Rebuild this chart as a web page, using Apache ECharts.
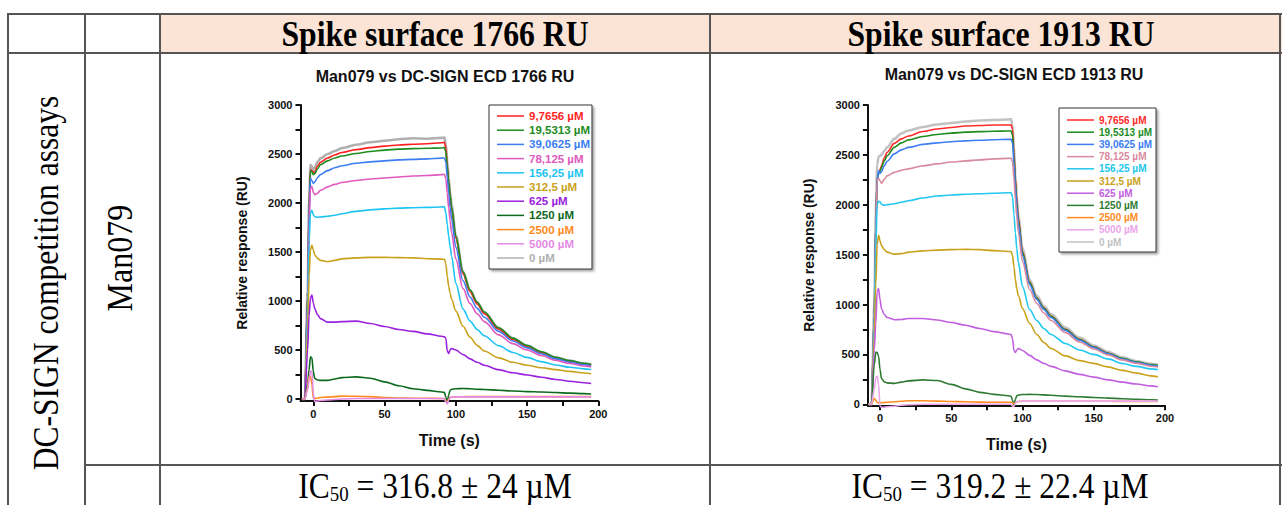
<!DOCTYPE html>
<html>
<head>
<meta charset="utf-8">
<script src="https://cdn.jsdelivr.net/npm/echarts@6/dist/echarts.min.js"></script>
<style>
  html, body { margin: 0; padding: 0; background: #fff; }
  #page { position: relative; width: 1282px; height: 505px; overflow: hidden; background: #fff; }
  .fill { position: absolute; background: #FBE4D5; }
  .ln { position: absolute; background: #555; }
  .txt { position: absolute; font-family: "Liberation Serif", "Times New Roman", serif; color: #000;
         white-space: nowrap; line-height: 1; font-size: 36px; }
  .ic { font-size: 35px; line-height: 0.9; }
  .ic sub { font-size: 0.6em; vertical-align: -0.15em; line-height: 0; }
  #chart { position: absolute; left: 0; top: 0; width: 1282px; height: 505px; }
</style>
</head>
<body>
<div id="page">
  <!-- header band -->
  <div class="fill" style="left:160px;top:14px;width:1130px;height:39px"></div>

  <!-- table rules -->
  <div class="ln" style="left:7px;top:13px;width:1283px;height:2px"></div>
  <div class="ln" style="left:7px;top:52px;width:1283px;height:2px"></div>
  <div class="ln" style="left:84px;top:464px;width:1206px;height:2px"></div>
  <div class="ln" style="left:7px;top:13px;width:2px;height:492px"></div>
  <div class="ln" style="left:84px;top:13px;width:2px;height:492px"></div>
  <div class="ln" style="left:159px;top:13px;width:2px;height:492px"></div>
  <div class="ln" style="left:709px;top:13px;width:2px;height:492px"></div>
  <div class="ln" style="left:1279px;top:13px;width:2px;height:492px"></div>

  <!-- cell texts -->
  <div class="txt" style="left:435px;top:34px;font-weight:bold;transform:translate(-50%,-50%) scaleX(0.88)">Spike surface 1766 RU</div>
  <div class="txt" style="left:1001px;top:34px;font-weight:bold;transform:translate(-50%,-50%) scaleX(0.88)">Spike surface 1913 RU</div>
  <div class="txt" style="left:46px;top:283px;transform:translate(-50%,-50%) rotate(-90deg) scaleX(0.875)">DC-SIGN competition assays</div>
  <div class="txt" style="left:120px;top:258px;transform:translate(-50%,-50%) rotate(-90deg) scaleX(0.89)">Man079</div>
  <div class="txt ic" style="left:435px;top:487px;transform:translate(-50%,-50%) scaleX(0.9)">IC<sub>50</sub> = 316.8 ± 24 µM</div>
  <div class="txt ic" style="left:1000px;top:487px;transform:translate(-50%,-50%) scaleX(0.9)">IC<sub>50</sub> = 319.2 ± 22.4 µM</div>

  <div id="chart"></div>
</div>

<script>
// Sampling times (s) shared by every sensorgram trace
const times = [-8, -6, -4, -3, -2, -1, 0, 1, 3, 5, 10, 15, 20, 30, 40, 50, 60, 70, 80, 90,
  92, 93, 94, 95, 96, 97, 100, 105, 110, 115, 120, 130, 140, 150, 160, 170, 180, 190, 195];

// Competitor concentrations (legend order)
const concLabels = ['9,7656 µM', '19,5313 µM', '39,0625 µM', '78,125 µM', '156,25 µM',
  '312,5 µM', '625 µM', '1250 µM', '2500 µM', '5000 µM', '0 µM'];

// Axis ticks
const xTickValues = [0, 25, 50, 75, 100, 125, 150, 175, 200];
const xLabelValues = [0, 50, 100, 150, 200];
const yTickValues = [0, 250, 500, 750, 1000, 1250, 1500, 1750, 2000, 2250, 2500, 2750, 3000];
const yLabelValues = [0, 500, 1000, 1500, 2000, 2500, 3000];

// Spike surface 1766 RU — response (RU)
const l_9_7656 = [0,0,1050,1950,2340,2330,2310,2320,2380,2415,2460,2490,2515,2545,2565,2580,2592,2600,2605,2615,2620, 2560,2380,2210,2070,1940,1640,1280,1095,970,870,712,608,535,472,418,383,356,346];
const l_19_5313 = [0,0,1050,1950,2330,2320,2290,2300,2350,2390,2430,2460,2480,2505,2525,2540,2550,2555,2558,2562,2565, 2520,2370,2220,2080,1960,1660,1300,1115,988,888,728,622,547,482,427,392,364,354];
const l_39_0625 = [0,0,1000,1900,2250,2230,2200,2215,2260,2290,2330,2360,2380,2405,2420,2430,2440,2445,2450,2458,2460, 2420,2260,2100,1960,1840,1550,1210,1040,925,835,690,592,522,462,410,376,350,340];
const l_78_125 = [0,0,950,1800,2150,2170,2110,2085,2100,2130,2165,2190,2210,2230,2245,2255,2265,2275,2280,2290,2292, 2250,2100,1950,1820,1700,1430,1130,975,870,790,655,565,500,444,395,362,337,328];
const l_156_25 = [0,0,850,1600,1900,1925,1880,1860,1855,1858,1865,1875,1890,1915,1930,1940,1948,1952,1955,1960,1962, 1900,1780,1660,1560,1460,1180,920,795,710,645,545,475,425,382,348,324,308,302];
const l_312_5 = [0,0,700,1250,1520,1570,1520,1470,1435,1415,1400,1415,1430,1440,1445,1445,1443,1440,1432,1428,1425, 1380,1250,1150,1080,1020,900,745,630,548,490,420,375,345,320,300,282,266,258];
const l_625 = [0,0,500,850,1030,1060,980,920,860,820,785,785,790,795,770,740,710,690,665,640,636, 620,490,465,500,515,500,455,410,375,345,300,268,245,222,200,182,166,158];
const l_1250 = [0,0,150,300,430,420,280,210,195,190,190,205,218,226,212,175,135,105,88,72,68, 20,-40,40,90,100,105,108,105,100,97,90,82,76,72,66,60,55,52];
const l_2500 = [0,0,120,230,230,150,10,5,10,15,20,25,30,28,25,15,10,8,8,5,5, -20,-40,0,15,20,22,24,25,25,25,25,25,25,25,25,25,25,25];
const l_5000 = [0,0,100,200,285,280,50,-25,-20,-15,-10,-5,0,5,5,5,5,5,5,5,5, -30,-50,-10,15,20,22,22,22,22,22,22,22,22,22,22,22,22,22];
const l_0 = [0,0,1100,2000,2390,2370,2340,2360,2420,2455,2500,2530,2560,2595,2620,2635,2650,2660,2655,2665,2668, 2600,2420,2250,2110,1980,1670,1300,1110,985,885,725,620,545,480,425,390,362,352];

// Spike surface 1913 RU — response (RU)
const r_9_7656 = [0,0,900,1800,2250,2320,2350,2390,2470,2525,2615,2660,2690,2735,2760,2775,2790,2795,2800,2800,2798, 2760,2520,2260,2050,1870,1530,1225,1068,965,885,752,652,576,512,458,420,393,383];
const r_19_5313 = [0,0,900,1800,2250,2310,2335,2370,2440,2490,2575,2620,2650,2685,2705,2718,2728,2733,2737,2740,2740, 2700,2480,2230,2030,1850,1520,1220,1065,962,882,750,650,575,512,460,425,398,390];
const r_39_0625 = [0,0,900,1800,2250,2340,2315,2330,2390,2435,2510,2550,2575,2605,2620,2632,2640,2647,2652,2655,2655, 2620,2420,2180,1985,1815,1490,1200,1050,950,870,740,642,568,506,454,418,392,384];
const r_78_125 = [0,0,850,1700,2240,2265,2240,2215,2255,2290,2325,2345,2360,2390,2410,2428,2440,2450,2460,2465,2466, 2430,2260,2050,1880,1730,1430,1150,1010,915,840,718,625,555,495,445,410,382,374];
const r_156_25 = [0,0,800,1550,2000,2035,2030,2005,1995,2000,2010,2025,2040,2068,2088,2098,2105,2110,2115,2120,2122, 2080,1900,1720,1560,1430,1180,950,840,760,700,610,545,500,455,410,380,355,348];
const r_312_5 = [0,0,700,1200,1600,1695,1640,1590,1550,1525,1505,1510,1525,1538,1545,1550,1553,1550,1540,1532,1530, 1490,1380,1250,1160,1090,960,810,700,620,560,485,438,410,375,340,312,285,275];
const r_625 = [0,0,550,800,1130,1160,1050,960,900,870,848,850,860,860,845,820,792,760,728,705,700, 660,540,520,545,560,540,490,445,410,380,335,300,272,245,222,203,185,176];
const r_1250 = [0,0,400,520,520,480,350,260,225,215,210,222,235,245,238,200,155,120,100,85,80, 40,-10,50,85,92,98,100,98,94,90,82,75,68,62,56,50,45,42];
const r_2500 = [0,0,60,40,20,15,15,15,18,20,25,30,35,35,32,28,25,22,20,20,20, 10,5,15,25,28,30,30,30,30,30,30,30,30,30,29,29,28,28];
const r_5000 = [0,0,150,270,280,200,-20,-30,-30,-25,-20,-10,-5,0,0,0,0,0,0,0,0, -20,-20,10,25,30,32,32,32,32,32,32,32,32,32,32,32,32,32];
const r_0 = [0,0,1000,1900,2400,2480,2490,2500,2540,2575,2660,2715,2745,2780,2805,2820,2835,2845,2850,2855,2856, 2800,2560,2300,2080,1900,1560,1250,1090,985,905,770,668,590,525,470,432,405,395];

const leftSets = [l_9_7656, l_19_5313, l_39_0625, l_78_125, l_156_25, l_312_5, l_625, l_1250, l_2500, l_5000, l_0];
const rightSets = [r_9_7656, r_19_5313, r_39_0625, r_78_125, r_156_25, r_312_5, r_625, r_1250, r_2500, r_5000, r_0];

const leftColors = ['#FF1F1F','#1E8C1E','#3C7DF2','#E059BE','#1EC4F2','#C9A21C','#9A22DE','#0C6A1C','#FF8A1E','#E48AE4','#B0B0B0'];
const rightColors = ['#FF2A2A','#1E8C1E','#3C7DF2','#D98A9E','#22C8F0','#C9A21C','#C25EE0','#2F7A34','#FF8A1E','#EBA5EB','#C2C2C2'];

const FONT = '"Liberation Sans", Arial, sans-serif';
const INK = '#111';

function axisPair(gridIndex, xMin, yMin) {
  const x = {
    type: 'value', gridIndex, min: xMin, max: 200,
    axisLine: { show: true, onZero: false, lineStyle: { color: INK, width: 2 } },
    axisTick: { show: true, customValues: xTickValues, length: 5, lineStyle: { color: INK, width: 2 } },
    axisLabel: { customValues: xLabelValues, formatter: v => String(v),
      color: INK, fontFamily: FONT, fontWeight: 'bold', fontSize: 11, margin: 7 },
    splitLine: { show: false },
    name: 'Time (s)', nameLocation: 'middle', nameGap: 31,
    nameTextStyle: { color: INK, fontFamily: FONT, fontWeight: 'bold', fontSize: 16 }
  };
  const y = {
    type: 'value', gridIndex, min: yMin, max: 3000,
    axisLine: { show: true, onZero: false, lineStyle: { color: INK, width: 2 } },
    axisTick: { show: true, customValues: yTickValues, length: 5, lineStyle: { color: INK, width: 2 } },
    axisLabel: { customValues: yLabelValues, formatter: v => String(v),
      color: INK, fontFamily: FONT, fontWeight: 'bold', fontSize: 11, margin: 8 },
    splitLine: { show: false },
    name: 'Relative response (RU)', nameLocation: 'middle', nameGap: 52,
    nameTextStyle: { color: INK, fontFamily: FONT, fontWeight: 'bold', fontSize: 14 }
  };
  return [x, y];
}

function buildSeries(sets, colors, prefix, idx) {
  const out = [];
  // the buffer-only trace sits underneath, drawn first and slightly heavier
  const order = [10, 0, 1, 2, 3, 4, 5, 6, 7, 8, 9];
  order.forEach(i => {
    out.push({
      type: 'line', name: prefix + i, xAxisIndex: idx, yAxisIndex: idx,
      data: times.map((t, k) => [t, sets[i][k]]),
      showSymbol: false, symbol: 'none', clip: false,
      smooth: 0.3, smoothMonotone: 'x',
      lineStyle: { color: colors[i], width: i === 10 ? 2.6 : 1.6 },
      itemStyle: { color: colors[i] },
      emphasis: { disabled: true }
    });
  });
  return out;
}

function buildLegend(prefix, colors, left, top, fontSize, lineH, pad) {
  return {
    orient: 'vertical', left, top, padding: pad, itemGap: 0.2,
    icon: 'rect', itemWidth: 27, itemHeight: 1.5,
    backgroundColor: '#fff', borderColor: '#333', borderWidth: 1,
    shadowColor: 'rgba(0,0,0,0.35)', shadowBlur: 2, shadowOffsetX: 2, shadowOffsetY: 2,
    selectedMode: false,
    formatter: name => concLabels[+name.slice(prefix.length)],
    textStyle: { fontFamily: FONT, fontWeight: 'bold', fontSize, lineHeight: lineH },
    data: concLabels.map((_, i) => ({
      name: prefix + i,
      itemStyle: { color: colors[i] },
      textStyle: { color: colors[i], fontFamily: FONT, fontWeight: 'bold', fontSize, lineHeight: lineH }
    }))
  };
}

const [x0, y0] = axisPair(0, -9, -20);
const [x1, y1] = axisPair(1, -8.5, -10);

const option = {
  animation: false,
  backgroundColor: 'transparent',
  grid: [
    { left: 300.5, top: 105, width: 297.8, height: 296 },
    { left: 867.9, top: 105, width: 297.1, height: 300.3 }
  ],
  xAxis: [x0, x1],
  yAxis: [y0, y1],
  legend: [
    buildLegend('L', leftColors, 489, 105, 11.5, 14, [4, 2, 4, 8]),
    buildLegend('R', rightColors, 1059, 108, 10, 12, [6, 4, 4, 8])
  ],
  graphic: [
    { type: 'text', x: 445, y: 76, style: { text: 'Man079 vs DC-SIGN ECD 1766 RU', fill: INK,
      font: 'bold 16px ' + FONT, align: 'center', verticalAlign: 'middle' } },
    { type: 'text', x: 1014, y: 74, style: { text: 'Man079 vs DC-SIGN ECD 1913 RU', fill: INK,
      font: 'bold 16px ' + FONT, align: 'center', verticalAlign: 'middle' } }
  ],
  series: buildSeries(leftSets, leftColors, 'L', 0).concat(buildSeries(rightSets, rightColors, 'R', 1))
};

const chart = echarts.init(document.getElementById('chart'), null, { renderer: 'svg' });
chart.setOption(option);
</script>
</body>
</html>
